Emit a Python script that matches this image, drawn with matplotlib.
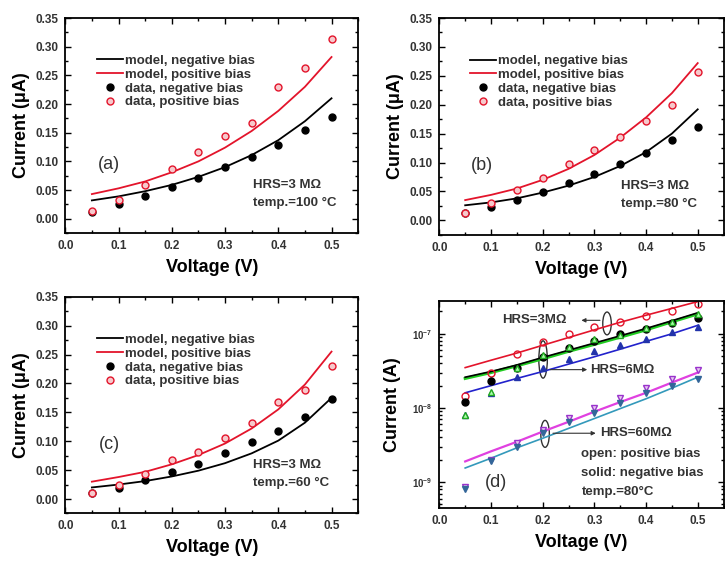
import matplotlib
matplotlib.use('Agg')
import matplotlib.pyplot as plt
from matplotlib.patches import Ellipse
from matplotlib.ticker import MultipleLocator, LogLocator, NullFormatter, FixedLocator

plt.rcParams['font.family'] = ['Liberation Sans', 'DejaVu Sans']
plt.rcParams['font.weight'] = 'bold'
plt.rcParams['axes.labelweight'] = 'bold'

voltage = [0.05, 0.10, 0.15, 0.20, 0.25, 0.30, 0.35, 0.40, 0.45, 0.50]

# (a) 100 C, HRS = 3 MOhm, current in uA
a_data_neg = [0.012, 0.026, 0.039, 0.055, 0.071, 0.090, 0.107, 0.129, 0.155, 0.178]
a_data_pos = [0.014, 0.033, 0.058, 0.087, 0.117, 0.145, 0.167, 0.229, 0.262, 0.314]
a_model_neg = [0.032, 0.039, 0.048, 0.059, 0.073, 0.090, 0.111, 0.137, 0.170, 0.210]
a_model_pos = [0.043, 0.053, 0.065, 0.081, 0.100, 0.124, 0.153, 0.188, 0.230, 0.282]

# (b) 80 C
b_data_neg = [0.012, 0.023, 0.035, 0.049, 0.064, 0.080, 0.098, 0.117, 0.139, 0.161]
b_data_pos = [0.013, 0.030, 0.052, 0.074, 0.098, 0.122, 0.145, 0.171, 0.199, 0.256]
b_model_neg = [0.026, 0.031, 0.038, 0.048, 0.060, 0.075, 0.094, 0.118, 0.150, 0.192]
b_model_pos = [0.035, 0.044, 0.055, 0.070, 0.089, 0.113, 0.143, 0.178, 0.220, 0.272]

# (c) 60 C
c_data_neg = [0.010, 0.019, 0.033, 0.046, 0.061, 0.079, 0.099, 0.118, 0.142, 0.173]
c_data_pos = [0.010, 0.025, 0.044, 0.067, 0.082, 0.106, 0.131, 0.168, 0.188, 0.230]
c_model_neg = [0.020, 0.025, 0.031, 0.039, 0.049, 0.062, 0.079, 0.101, 0.132, 0.175]
c_model_pos = [0.030, 0.038, 0.047, 0.060, 0.076, 0.096, 0.122, 0.155, 0.198, 0.255]

# (d) 80 C, three resistances, current in A
d_3m_pos = [1.45e-8, 3.0e-8, 5.4e-8, 7.7e-8, 1.0e-7, 1.25e-7, 1.45e-7, 1.72e-7, 2.0e-7, 2.56e-7]
d_3m_neg = [1.2e-8, 2.3e-8, 3.5e-8, 4.9e-8, 6.4e-8, 8.0e-8, 9.8e-8, 1.17e-7, 1.39e-7, 1.61e-7]
d_6m_pos = [8.0e-9, 1.65e-8, 3.5e-8, 5.1e-8, 6.6e-8, 8.5e-8, 9.5e-8, 1.2e-7, 1.45e-7, 1.85e-7]
d_6m_neg = [8.0e-9, 1.6e-8, 2.6e-8, 3.5e-8, 4.6e-8, 5.9e-8, 7.0e-8, 8.5e-8, 1.05e-7, 1.23e-7]
d_60m_pos = [8.5e-10, 2.0e-9, 3.4e-9, 5.1e-9, 7.4e-9, 1.0e-8, 1.37e-8, 1.88e-8, 2.45e-8, 3.25e-8]
d_60m_neg = [8.0e-10, 1.9e-9, 3.0e-9, 4.6e-9, 6.5e-9, 8.6e-9, 1.18e-8, 1.6e-8, 2.0e-8, 2.45e-8]
d_model_3m_pos = [3.5e-8, 4.4e-8, 5.5e-8, 7.0e-8, 8.9e-8, 1.13e-7, 1.43e-7, 1.78e-7, 2.2e-7, 2.72e-7]
d_model_3m_neg = [2.6e-8, 3.1e-8, 3.8e-8, 4.8e-8, 6.0e-8, 7.5e-8, 9.4e-8, 1.18e-7, 1.5e-7, 1.92e-7]
d_model_6m_pos = [2.5e-8, 3.0e-8, 3.7e-8, 4.6e-8, 5.8e-8, 7.2e-8, 9.0e-8, 1.13e-7, 1.45e-7, 1.85e-7]
d_model_6m_neg = [1.6e-8, 2.0e-8, 2.5e-8, 3.1e-8, 3.9e-8, 4.9e-8, 6.2e-8, 7.9e-8, 1.0e-7, 1.3e-7]
d_model_60m_pos = [1.9e-9, 2.6e-9, 3.5e-9, 4.8e-9, 6.5e-9, 8.9e-9, 1.2e-8, 1.6e-8, 2.2e-8, 3.0e-8]
d_model_60m_neg = [1.55e-9, 2.1e-9, 2.9e-9, 3.9e-9, 5.3e-9, 7.2e-9, 9.8e-9, 1.33e-8, 1.85e-8, 2.6e-8]
d_major_ticks = [1e-9, 1e-8, 1e-7]

RED = '#e3142b'
TXT = '#333333'
FS = 9.5

fig = plt.figure(figsize=(7.25, 5.63), dpi=100)


def style_axes(ax):
    ax.set_xlim(0.0, 0.55)
    ax.xaxis.set_major_locator(MultipleLocator(0.1))
    ax.xaxis.set_minor_locator(MultipleLocator(0.05))
    ax.tick_params(which='both', direction='in', top=True, right=True,
                   labelsize=8.5, width=1.0, colors='black', labelcolor=TXT)
    ax.tick_params(which='major', length=4, pad=5)
    ax.tick_params(which='minor', length=2)
    for s in ax.spines.values():
        s.set_linewidth(1.3)
    ax.set_xlabel('Voltage (V)', fontsize=13, labelpad=5)
    for lbl in ax.get_xticklabels() + ax.get_yticklabels():
        lbl.set_fontweight('bold')


def linear_panel(rect, dneg, dpos, mneg, mpos, tag, temp):
    ax = fig.add_axes(rect)
    ax.plot(voltage, mneg, color='black', lw=1.3, label='model, negative bias')
    ax.plot(voltage, mpos, color=RED, lw=1.3, label='model, positive bias')
    ax.plot(voltage, dneg, 'o', color='black', ms=5, label='data, negative bias')
    ax.plot(voltage, dpos, 'o', mfc='#f6c9cc', mec=RED, mew=1.0, ms=5,
            label='data, positive bias')
    ax.set_ylim(-0.025, 0.35)
    ax.yaxis.set_major_locator(MultipleLocator(0.05))
    ax.yaxis.set_minor_locator(MultipleLocator(0.025))
    ax.yaxis.set_major_formatter(matplotlib.ticker.FormatStrFormatter('%.2f'))
    style_axes(ax)
    ax.set_ylabel('Current (\u03bcA)', fontsize=13, labelpad=4)
    leg = ax.legend(loc='upper left', bbox_to_anchor=(0.085, 0.86), frameon=False,
                    fontsize=FS, handlelength=2.0, handletextpad=0.15,
                    labelspacing=0.12, borderpad=0.0)
    for t in leg.get_texts():
        t.set_color(TXT)
    ax.text(0.15, 0.32, tag, transform=ax.transAxes, fontsize=13,
            color=TXT, ha='center', va='center', fontweight='normal')
    ax.text(0.64, 0.225, 'HRS=3 M\u03a9', transform=ax.transAxes, fontsize=FS,
            color=TXT, va='center')
    ax.text(0.64, 0.14, temp, transform=ax.transAxes, fontsize=FS,
            color=TXT, va='center')
    return ax


linear_panel([0.090, 0.586, 0.404, 0.382], a_data_neg, a_data_pos, a_model_neg,
             a_model_pos, '(a)', 'temp.=100 \u00b0C')
linear_panel([0.606, 0.583, 0.392, 0.385], b_data_neg, b_data_pos, b_model_neg,
             b_model_pos, '(b)', 'temp.=80 \u00b0C')
linear_panel([0.090, 0.088, 0.404, 0.385], c_data_neg, c_data_pos, c_model_neg,
             c_model_pos, '(c)', 'temp.=60 \u00b0C')

# (d) log scale panel
ax = fig.add_axes([0.606, 0.098, 0.392, 0.368])
ax.set_yscale('log')
ax.plot(voltage, d_model_3m_pos, color=RED, lw=1.2)
ax.plot(voltage, d_model_6m_pos, color='#22cc22', lw=2.2)
ax.plot(voltage, d_model_3m_neg, color='black', lw=1.2)
ax.plot(voltage, d_model_6m_neg, color='#2222cc', lw=1.2)
ax.plot(voltage, d_model_60m_pos, color='#e040e0', lw=1.6)
ax.plot(voltage, d_model_60m_neg, color='#3399bb', lw=1.2)
ax.plot(voltage, d_3m_pos, 'o', mfc='none', mec=RED, ms=5)
ax.plot(voltage, d_3m_neg, 'o', color='black', ms=5)
ax.plot(voltage, d_6m_neg, '^', color='#2233aa', ms=5)
ax.plot(voltage, d_6m_pos, '^', mfc='#aaffaa', mec='#22aa22', ms=5)
ax.plot(voltage, d_60m_pos, 'v', mfc='#e8c8f0', mec='#9933cc', ms=5)
ax.plot(voltage, d_60m_neg, 'v', color='#336699', ms=4.5)
ax.set_ylim(4.5e-10, 2.8e-7)
ax.yaxis.set_major_locator(FixedLocator(d_major_ticks))
ax.yaxis.set_minor_locator(LogLocator(base=10, subs=range(2, 10), numticks=20))
ax.yaxis.set_minor_formatter(NullFormatter())
style_axes(ax)
ax.tick_params(axis='y', labelsize=7)
ax.set_ylabel('Current (A)', fontsize=13, labelpad=8)

ax.text(0.22, 0.905, 'HRS=3M\u03a9', transform=ax.transAxes, fontsize=FS,
        color=TXT, va='center')
ax.add_patch(Ellipse((0.59, 0.89), 0.03, 0.11, transform=ax.transAxes,
                     fill=False, ec='#333333', lw=1.0))
ax.annotate('', xy=(0.49, 0.905), xytext=(0.575, 0.905), xycoords='axes fraction',
            arrowprops=dict(arrowstyle='-|>', color='#333333', lw=0.8,
                            mutation_scale=6))
ax.text(0.53, 0.667, 'HRS=6M\u03a9', transform=ax.transAxes, fontsize=FS,
        color=TXT, va='center')
ax.add_patch(Ellipse((0.365, 0.716), 0.03, 0.18, transform=ax.transAxes,
                     fill=False, ec='#333333', lw=1.0))
ax.annotate('', xy=(0.53, 0.667), xytext=(0.38, 0.667), xycoords='axes fraction',
            arrowprops=dict(arrowstyle='-|>', color='#333333', lw=0.8,
                            mutation_scale=6))
ax.text(0.565, 0.36, 'HRS=60M\u03a9', transform=ax.transAxes, fontsize=FS,
        color=TXT, va='center')
ax.add_patch(Ellipse((0.372, 0.357), 0.03, 0.13, transform=ax.transAxes,
                     fill=False, ec='#333333', lw=1.0))
ax.annotate('', xy=(0.56, 0.36), xytext=(0.39, 0.36), xycoords='axes fraction',
            arrowprops=dict(arrowstyle='-|>', color='#333333', lw=0.8,
                            mutation_scale=6))
ax.text(0.50, 0.262, 'open: positive bias', transform=ax.transAxes, fontsize=FS,
        color=TXT, va='center')
ax.text(0.50, 0.169, 'solid: negative bias', transform=ax.transAxes, fontsize=FS,
        color=TXT, va='center')
ax.text(0.50, 0.076, 'temp.=80\u00b0C', transform=ax.transAxes, fontsize=FS,
        color=TXT, va='center')
ax.text(0.20, 0.12, '(d)', transform=ax.transAxes, fontsize=13, color=TXT,
        ha='center', va='center', fontweight='normal')

fig.savefig('out.png', dpi=100)
